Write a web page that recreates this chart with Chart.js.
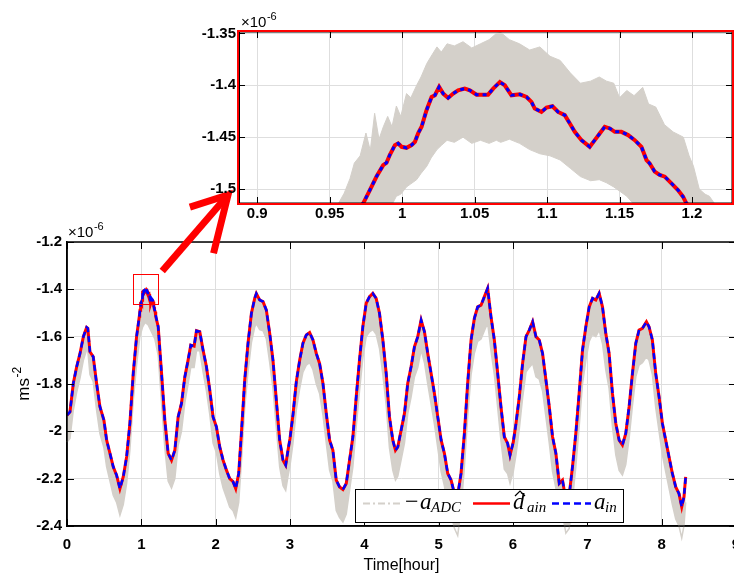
<!DOCTYPE html>
<html><head><meta charset="utf-8">
<script src="https://cdn.jsdelivr.net/npm/chart.js@4.4.0/dist/chart.umd.min.js"></script>
<style>
html,body{margin:0;padding:0;background:#fff;overflow:hidden;width:734px;height:574px;}
#wrap{position:relative;width:734px;height:574px;overflow:hidden;background:#fff;}
canvas{position:absolute;left:0;top:0;}
</style></head><body>
<div id="wrap">
<canvas id="main" width="740" height="574" style="width:740px;height:574px"></canvas>
<canvas id="inset" width="740" height="230" style="width:740px;height:230px"></canvas>
</div>
<script>
// ---------- data (values in units of 1e-6 m/s^2, time in hours) ----------
const hours = [
 0.000,0.040,0.085,0.130,0.175,0.220,0.264,0.280,0.309,0.353,0.398,0.443,0.497,0.533,0.578,0.622,0.667,0.712,0.757,0.802,0.846,0.891,0.936,
 0.9731,0.9777,0.9823,0.9869,0.9892,0.9915,0.9950,0.9972,0.9996,1.0030,1.0065,1.0088,1.0110,1.0134,1.0168,1.0203,1.0226,1.0255,1.0283,1.0317,
 1.0352,1.0386,1.0432,1.0467,1.0513,1.0559,1.0593,1.0628,1.0674,1.0708,1.0754,1.0812,1.0858,1.0892,1.0915,1.0961,1.0996,1.1037,1.1076,1.1122,
 1.1157,1.1191,1.1237,1.1294,1.1329,1.1363,1.1398,1.1433,1.1467,1.1513,1.1559,1.1605,1.1651,1.1686,1.1708,1.1743,1.1777,1.1812,1.1858,1.1903,
 1.1938,1.1961,
 1.227,1.272,1.316,1.361,1.406,1.451,1.495,1.540,1.585,1.629,1.665,1.710,1.742,1.786,1.831,1.876,1.921,1.965,2.010,2.055,2.100,2.145,2.189,
 2.234,2.270,2.310,2.346,2.391,2.435,2.481,2.525,2.547,2.592,2.637,2.682,2.727,2.771,2.816,2.861,2.906,2.942,2.973,3.000,3.040,3.085,3.130,
 3.174,3.219,3.264,3.309,3.354,3.398,3.443,3.488,3.533,3.577,3.622,3.667,3.712,3.757,3.801,3.846,3.891,3.935,3.980,4.025,4.070,4.114,4.159,
 4.204,4.249,4.294,4.338,4.383,4.419,4.450,4.495,4.540,4.584,4.629,4.674,4.719,4.764,4.809,4.853,4.898,4.943,4.988,5.033,5.077,5.122,5.167,
 5.212,5.256,5.301,5.346,5.390,5.436,5.480,5.525,5.570,5.615,5.659,5.704,5.749,5.794,5.838,5.883,5.928,5.960,6.004,6.040,6.085,6.129,6.175,
 6.219,6.264,6.309,6.353,6.398,6.443,6.488,6.532,6.577,6.622,6.666,6.711,6.756,6.800,6.845,6.890,6.935,6.980,7.025,7.070,7.114,7.159,7.204,
 7.248,7.293,7.338,7.383,7.428,7.472,7.517,7.562,7.607,7.652,7.696,7.741,7.795,7.830,7.875,7.920,7.965,8.010,8.054,8.099,8.144,8.189,8.233,
 8.270,8.300,8.323
];
const dHat = [
 -1.932,-1.918,-1.797,-1.727,-1.671,-1.600,-1.561,-1.565,-1.664,-1.685,-1.797,-1.896,-1.953,-2.037,-2.093,-2.150,-2.185,-2.242,-2.192,-2.108,-1.967,-1.755,-1.600,
 -1.5138,-1.5010,-1.4880,-1.4770,-1.4747,-1.4670,-1.4577,-1.4560,-1.4593,-1.4603,-1.4577,-1.4545,-1.4464,-1.4400,-1.4240,-1.4113,-1.4096,-1.4016,-1.4080,-1.4122,
 -1.4080,-1.4048,-1.4032,-1.4048,-1.4090,-1.4090,-1.4090,-1.4032,-1.3968,-1.4000,-1.4096,-1.4087,-1.4113,-1.4160,-1.4224,-1.4257,-1.4215,-1.4202,-1.4257,-1.4288,
 -1.4369,-1.4449,-1.4529,-1.4593,-1.4529,-1.4465,-1.4400,-1.4416,-1.4449,-1.4449,-1.4480,-1.4529,-1.4593,-1.4721,-1.4753,-1.4833,-1.4865,-1.4881,-1.4945,-1.5010,
 -1.5074,-1.5138,
 -1.558,-1.755,-1.953,-2.093,-2.122,-2.080,-1.939,-1.882,-1.770,-1.699,-1.636,-1.640,-1.575,-1.579,-1.657,-1.727,-1.826,-1.939,-1.981,-2.066,-2.122,-2.164,-2.200,
 -2.213,-2.242,-2.178,-2.009,-1.783,-1.628,-1.501,-1.438,-1.418,-1.445,-1.452,-1.488,-1.586,-1.699,-1.868,-2.037,-2.122,-2.143,-2.080,-2.030,-1.930,-1.790,-1.700,
 -1.628,-1.593,-1.583,-1.614,-1.671,-1.713,-1.797,-1.924,-2.037,-2.080,-2.206,-2.235,-2.246,-2.220,-2.122,-2.023,-1.854,-1.699,-1.558,-1.459,-1.431,-1.417,-1.438,
 -1.501,-1.614,-1.755,-1.939,-2.037,-2.080,-2.066,-1.995,-1.924,-1.797,-1.727,-1.643,-1.600,-1.530,-1.579,-1.671,-1.755,-1.840,-1.939,-2.037,-2.093,-2.178,-2.206,
 -2.263,-2.270,-2.178,-2.009,-1.797,-1.614,-1.523,-1.474,-1.467,-1.431,-1.396,-1.516,-1.614,-1.755,-1.896,-2.023,-2.051,-2.101,-2.045,-1.967,-1.854,-1.713,-1.600,
 -1.572,-1.537,-1.600,-1.614,-1.671,-1.783,-1.896,-2.023,-2.093,-2.220,-2.206,-2.290,-2.270,-2.150,-2.009,-1.840,-1.657,-1.558,-1.474,-1.438,-1.445,-1.417,-1.474,
 -1.586,-1.671,-1.840,-1.967,-2.037,-2.058,-2.009,-1.896,-1.755,-1.628,-1.572,-1.565,-1.537,-1.558,-1.614,-1.755,-1.854,-1.967,-2.037,-2.108,-2.178,-2.235,-2.263,
 -2.319,-2.277,-2.192
];
const aIn = dHat; // reference signal coincides with the estimate in the figure

// noisy ADC signal: lower edge of the grey band (main plot)
const adcHours = [
 0.000,0.040,0.085,0.130,0.175,0.220,0.264,0.280,0.309,0.353,0.398,0.443,0.497,0.533,0.578,0.622,0.667,0.712,0.757,0.802,0.846,0.891,0.936,
 0.980,1.016,1.052,1.092,1.137,1.182,1.227,1.272,1.316,1.361,1.406,1.451,1.495,1.540,1.585,1.629,1.665,1.710,1.742,1.786,1.831,1.876,1.921,
 1.965,2.010,2.055,2.100,2.145,2.189,2.234,2.270,2.310,2.346,2.391,2.435,2.481,2.525,2.547,2.592,2.637,2.682,2.727,2.771,2.816,2.861,2.906,
 2.942,2.973,3.000,3.040,3.085,3.130,3.174,3.219,3.264,3.309,3.354,3.398,3.443,3.488,3.533,3.577,3.622,3.667,3.712,3.757,3.801,3.846,3.891,
 3.935,3.980,4.025,4.070,4.114,4.159,4.204,4.249,4.294,4.338,4.383,4.419,4.450,4.495,4.540,4.584,4.629,4.674,4.719,4.764,4.809,4.853,4.898,
 4.943,4.988,5.033,5.077,5.122,5.167,5.212,5.256,5.301,5.346,5.390,5.436,5.480,5.525,5.570,5.615,5.659,5.704,5.749,5.794,5.838,5.883,5.928,
 5.960,6.004,6.040,6.085,6.129,6.175,6.219,6.264,6.309,6.353,6.398,6.443,6.488,6.532,6.577,6.622,6.666,6.711,6.756,6.800,6.845,6.890,6.935,
 6.980,7.025,7.070,7.114,7.159,7.204,7.248,7.293,7.338,7.383,7.428,7.472,7.517,7.562,7.607,7.652,7.696,7.741,7.795,7.830,7.875,7.920,7.965,
 8.010,8.054,8.099,8.144,8.189,8.233,8.270,8.300,8.323
];
const adcLow = [
 -2.045,-2.030,-1.910,-1.835,-1.775,-1.700,-1.655,-1.660,-1.760,-1.790,-1.910,-2.010,-2.070,-2.150,-2.210,-2.270,-2.300,-2.355,-2.310,-2.220,-2.080,-1.870,-1.720,
 -1.600,-1.560,-1.540,-1.550,-1.580,-1.610,-1.680,-1.880,-2.070,-2.210,-2.240,-2.200,-2.060,-2.000,-1.880,-1.800,-1.730,-1.730,-1.660,-1.660,-1.750,-1.830,-1.930,
 -2.050,-2.090,-2.180,-2.240,-2.280,-2.320,-2.335,-2.365,-2.300,-2.130,-1.900,-1.750,-1.625,-1.560,-1.545,-1.570,-1.575,-1.610,-1.710,-1.820,-1.985,-2.150,-2.230,
 -2.250,-2.190,-2.145,-2.050,-1.910,-1.820,-1.750,-1.720,-1.710,-1.740,-1.800,-1.840,-1.930,-2.050,-2.165,-2.210,-2.335,-2.365,-2.383,-2.350,-2.250,-2.150,-1.980,
 -1.830,-1.690,-1.600,-1.580,-1.570,-1.590,-1.650,-1.760,-1.890,-2.070,-2.165,-2.206,-2.190,-2.120,-2.050,-1.925,-1.855,-1.770,-1.730,-1.657,-1.710,-1.800,-1.885,
 -1.970,-2.070,-2.170,-2.230,-2.320,-2.350,-2.410,-2.440,-2.330,-2.150,-1.940,-1.760,-1.670,-1.620,-1.610,-1.575,-1.543,-1.660,-1.760,-1.900,-2.040,-2.160,-2.180,
 -2.220,-2.170,-2.100,-1.990,-1.860,-1.750,-1.730,-1.713,-1.770,-1.780,-1.830,-1.940,-2.050,-2.170,-2.240,-2.360,-2.350,-2.430,-2.410,-2.290,-2.150,-1.980,-1.800,
 -1.700,-1.620,-1.590,-1.600,-1.572,-1.630,-1.740,-1.820,-1.980,-2.100,-2.165,-2.185,-2.140,-2.030,-1.890,-1.770,-1.720,-1.710,-1.685,-1.700,-1.760,-1.900,-2.000,
 -2.100,-2.170,-2.240,-2.310,-2.370,-2.400,-2.450,-2.400,-2.300
];

// noisy ADC signal inside the zoom window: upper / lower edges of the grey band
const adcZoomHours = [
 0.956,0.960,0.964,0.967,0.971,0.975,0.978,0.981,0.984,0.987,0.990,0.993,0.996,0.999,1.003,1.006,1.010,1.013,1.017,1.020,1.024,1.027,1.031,
 1.036,1.042,1.048,1.054,1.060,1.065,1.068,1.074,1.081,1.088,1.095,1.102,1.109,1.116,1.123,1.130,1.136,1.141,1.146,1.150,1.155,1.160,1.166,
 1.170,1.175,1.181,1.187,1.194,1.198,1.201,1.205,1.209,1.212,1.216
];
const adcZoomHi = [
 -1.514,-1.504,-1.490,-1.475,-1.468,-1.446,-1.463,-1.427,-1.452,-1.440,-1.430,-1.440,-1.420,-1.430,-1.408,-1.412,-1.400,-1.392,-1.379,-1.372,-1.363,-1.368,-1.360,
 -1.362,-1.358,-1.364,-1.360,-1.356,-1.350,-1.349,-1.356,-1.360,-1.366,-1.363,-1.372,-1.376,-1.388,-1.398,-1.396,-1.392,-1.396,-1.398,-1.412,-1.405,-1.410,-1.402,
 -1.418,-1.421,-1.438,-1.445,-1.450,-1.468,-1.478,-1.500,-1.505,-1.507,-1.515
];
const adcZoomLo = [
 -1.560,-1.560,-1.560,-1.560,-1.560,-1.560,-1.560,-1.560,-1.560,-1.540,-1.525,-1.515,-1.507,-1.505,-1.498,-1.495,-1.491,-1.485,-1.478,-1.470,-1.462,-1.458,-1.453,
 -1.455,-1.450,-1.456,-1.453,-1.456,-1.453,-1.455,-1.452,-1.456,-1.462,-1.466,-1.468,-1.472,-1.480,-1.488,-1.492,-1.491,-1.494,-1.498,-1.502,-1.507,-1.515,-1.530,
 -1.560,-1.560,-1.560,-1.560,-1.560,-1.560,-1.560,-1.560,-1.560,-1.560,-1.560
];

// axes ranges / ticks
const mainX = {min: 0, max: 9, step: 1};
const mainY = {min: -2.4, max: -1.2, step: 0.2};
const zoomX = {min: 0.8874, max: 1.2276, step: 0.05};
const zoomY = {min: -1.5135, max: -1.3486, step: 0.05};
const zoomBoxY = {top: -1.335, bottom: -1.463};   // red rectangle drawn on main plot
const legendLabels = ['-a_ADC', 'd̂_ain', 'a_in'];

// ---------- styling ----------
const GRAY = 'rgb(212,208,202)';
const RED = 'rgb(255,0,0)';
const BLUE = 'rgb(0,0,255)';
const GRID = 'rgb(222,222,222)';
const SANS = '"Liberation Sans", Arial, Helvetica, sans-serif';
const SERIF = '"Liberation Serif", "Times New Roman", serif';

const pts = (xs, ys) => xs.map((x, i) => ({x, y: ys[i]}));
const fmt = v => String(+(+v).toFixed(3));

function line(ctx, x1, y1, x2, y2) { ctx.beginPath(); ctx.moveTo(x1, y1); ctx.lineTo(x2, y2); ctx.stroke(); }

function drawTimes10(ctx, x, y) {
  ctx.save();
  ctx.fillStyle = '#000';
  ctx.textBaseline = 'alphabetic';
  ctx.textAlign = 'left';
  ctx.font = '15px ' + SANS;
  ctx.fillText('\u00d710', x, y);
  const w = ctx.measureText('\u00d710').width;
  ctx.font = '11px ' + SANS;
  ctx.fillText('-6', x + w + 0.5, y - 7);
  ctx.restore();
}

function boxAndTicks(chart, boxColor, boxWidth, tickLen) {
  const {ctx, chartArea: a, scales: {x, y}} = chart;
  ctx.save();
  ctx.strokeStyle = '#000'; ctx.lineWidth = 1;
  x.ticks.forEach(t => {
    const px = Math.round(x.getPixelForValue(t.value)) + 0.5;
    line(ctx, px, a.bottom, px, a.bottom - tickLen);
    line(ctx, px, a.top, px, a.top + tickLen);
  });
  y.ticks.forEach(t => {
    const py = Math.round(y.getPixelForValue(t.value)) + 0.5;
    line(ctx, a.left, py, a.left + tickLen, py);
    line(ctx, a.right, py, a.right - tickLen, py);
  });
  ctx.strokeStyle = boxColor; ctx.lineWidth = boxWidth;
  ctx.strokeRect(a.left, a.top, a.right - a.left, a.bottom - a.top);
  ctx.restore();
}

// ---------- main chart ----------
const mainDecor = {
  id: 'mainDecor',
  afterDraw(chart) {
    const {ctx, chartArea: a, scales: {x, y}} = chart;
    boxAndTicks(chart, '#000', 1.5, 7);
    drawTimes10(ctx, a.left + 1, a.top - 5);

    // axis titles
    ctx.save();
    ctx.fillStyle = '#000';
    ctx.font = '16px ' + SANS;
    ctx.textAlign = 'center'; ctx.textBaseline = 'alphabetic';
    ctx.fillText('Time[hour]', (a.left + a.right) / 2, 570);
    ctx.translate(29, (a.top + a.bottom) / 2);
    ctx.rotate(-Math.PI / 2);
    ctx.font = '17px ' + SANS;
    const w1 = ctx.measureText('ms').width;
    ctx.font = '12px ' + SANS;
    const w2 = ctx.measureText('-2').width;
    const x0 = -(w1 + w2) / 2;
    ctx.textAlign = 'left';
    ctx.font = '17px ' + SANS;
    ctx.fillText('ms', x0, 0);
    ctx.font = '12px ' + SANS;
    ctx.fillText('-2', x0 + w1 + 0.5, -8);
    ctx.restore();

    // zoom rectangle
    ctx.save();
    const rx1 = x.getPixelForValue(zoomX.min), rx2 = x.getPixelForValue(zoomX.max);
    const ry1 = y.getPixelForValue(zoomBoxY.top), ry2 = y.getPixelForValue(zoomBoxY.bottom);
    ctx.strokeStyle = RED; ctx.lineWidth = 1;
    ctx.strokeRect(Math.round(rx1) + 0.5, Math.round(ry1) + 0.5, Math.round(rx2 - rx1), Math.round(ry2 - ry1));

    // arrow from rectangle towards inset
    const sx = rx2 + 4, sy = ry1 - 3;
    const ex = 228, ey = 195;
    ctx.strokeStyle = RED; ctx.lineWidth = 7; ctx.lineCap = 'butt';
    line(ctx, sx, sy, ex, ey);
    const ang = Math.atan2(ey - sy, ex - sx);
    ctx.beginPath();
    ctx.moveTo(ex - 40 * Math.cos(ang + 0.55), ey - 40 * Math.sin(ang + 0.55));
    ctx.lineTo(ex, ey);
    ctx.lineTo(ex - 60 * Math.cos(ang - 0.47), ey - 60 * Math.sin(ang - 0.47));
    ctx.lineJoin = 'miter';
    ctx.stroke();
    ctx.restore();

    // legend
    ctx.save();
    const bx = 355.5, by = 489.5, bw = 268, bh = 33;
    ctx.fillStyle = '#fff'; ctx.fillRect(bx, by, bw, bh);
    ctx.strokeStyle = '#000'; ctx.lineWidth = 1; ctx.strokeRect(bx, by, bw, bh);
    const ly = 503.5;
    ctx.lineWidth = 2; ctx.strokeStyle = GRAY; ctx.setLineDash([7, 3, 2, 3]);
    line(ctx, 363, ly, 402, ly);
    ctx.setLineDash([]); ctx.strokeStyle = RED; ctx.lineWidth = 2.5;
    line(ctx, 473, ly, 510, ly);
    ctx.strokeStyle = BLUE; ctx.setLineDash([7, 4]);
    line(ctx, 552, ly, 591, ly);
    ctx.setLineDash([]);
    ctx.fillStyle = '#000'; ctx.textAlign = 'left'; ctx.textBaseline = 'alphabetic';
    const base = 509;
    // −a_ADC
    ctx.font = '24px ' + SERIF;
    ctx.fillText('\u2212', 405, base);
    ctx.font = 'italic 23px ' + SERIF;
    ctx.fillText('a', 420, base);
    ctx.font = 'italic 15px ' + SERIF;
    ctx.fillText(legendLabels[0].split('_')[1], 431, base + 3);
    // d̂_ain
    ctx.font = 'italic 23px ' + SERIF;
    ctx.fillText('d', 513, base);
    ctx.lineWidth = 1.2; ctx.strokeStyle = '#000';
    ctx.beginPath(); ctx.moveTo(515, 496); ctx.lineTo(520, 491); ctx.lineTo(525, 496); ctx.stroke();
    ctx.font = 'italic 15px ' + SERIF;
    ctx.fillText(legendLabels[1].split('_')[1], 527, base + 3);
    // a_in
    ctx.font = 'italic 23px ' + SERIF;
    ctx.fillText('a', 594, base);
    ctx.font = 'italic 15px ' + SERIF;
    ctx.fillText(legendLabels[2].split('_')[1], 605, base + 3);
    ctx.restore();
  }
};

const tickFont = {family: SANS, size: 15, weight: 'bold'};

new Chart(document.getElementById('main'), {
  type: 'line',
  data: {
    datasets: [
      {label: legendLabels[0], data: pts(adcHours, adcLow), borderColor: GRAY, backgroundColor: GRAY,
       borderWidth: 1.5, pointRadius: 0, fill: 1, order: 3, tension: 0, clip: false},
      {label: legendLabels[1], data: pts(hours, dHat), borderColor: RED, borderWidth: 3,
       pointRadius: 0, fill: false, order: 2, tension: 0},
      {label: legendLabels[2], data: pts(hours, aIn), borderColor: BLUE, borderWidth: 2.5, borderDash: [6, 4],
       pointRadius: 0, fill: false, order: 1, tension: 0}
    ]
  },
  options: {
    responsive: false, animation: false, devicePixelRatio: 1,
    events: [],
    layout: {padding: {top: 242, right: 4, left: 0, bottom: 0}},
    plugins: {legend: {display: false}, tooltip: {enabled: false}, title: {display: false}},
    scales: {
      x: {type: 'linear', min: mainX.min, max: mainX.max,
          ticks: {stepSize: mainX.step, font: tickFont, color: '#000', padding: 10, maxRotation: 0, autoSkip: false, callback: fmt},
          grid: {color: GRID, lineWidth: 1, drawTicks: false},
          border: {color: '#000', width: 1.5},
          afterFit(s) { s.height = 48; s.paddingLeft = 0; s.paddingRight = 0; }},
      y: {type: 'linear', min: mainY.min, max: mainY.max,
          ticks: {stepSize: mainY.step, font: tickFont, color: '#000', padding: 5, callback: fmt},
          grid: {color: GRID, lineWidth: 1, drawTicks: false},
          border: {color: '#000', width: 1.5},
          afterFit(s) { s.width = 67; s.paddingTop = 0; s.paddingBottom = 0; }}
    }
  },
  plugins: [mainDecor]
});

// ---------- inset (zoom) chart ----------
const insetDecor = {
  id: 'insetDecor',
  beforeDraw(chart) {
    const {ctx, chartArea: a} = chart;
    ctx.save(); ctx.fillStyle = '#fff';
    ctx.fillRect(a.left, a.top, a.right - a.left, a.bottom - a.top);
    ctx.restore();
  },
  afterDraw(chart) {
    const {ctx, chartArea: a} = chart;
    boxAndTicks(chart, '#000', 1, 6);
    ctx.save();
    ctx.strokeStyle = RED; ctx.lineWidth = 2;
    ctx.strokeRect(a.left - 1, a.top - 1, a.right - a.left + 2, a.bottom - a.top + 2);
    ctx.restore();
    drawTimes10(ctx, a.left + 2, a.top - 5);
  }
};

new Chart(document.getElementById('inset'), {
  type: 'line',
  data: {
    datasets: [
      {label: 'hi', data: pts(adcZoomHours, adcZoomHi), borderColor: GRAY, backgroundColor: GRAY,
       borderWidth: 1, pointRadius: 0, fill: 1, order: 4, tension: 0},
      {label: 'lo', data: pts(adcZoomHours, adcZoomLo), borderColor: GRAY, backgroundColor: GRAY,
       borderWidth: 1, pointRadius: 0, fill: false, order: 4, tension: 0},
      {label: legendLabels[1], data: pts(hours, dHat), borderColor: RED, borderWidth: 4,
       pointRadius: 0, fill: false, order: 2, tension: 0},
      {label: legendLabels[2], data: pts(hours, aIn), borderColor: BLUE, borderWidth: 3, borderDash: [4, 4],
       pointRadius: 0, fill: false, order: 1, tension: 0}
    ]
  },
  options: {
    responsive: false, animation: false, devicePixelRatio: 1,
    events: [],
    layout: {padding: {top: 32, right: 8, left: 0, bottom: 0}},
    plugins: {legend: {display: false}, tooltip: {enabled: false}, title: {display: false}},
    scales: {
      x: {type: 'linear', min: zoomX.min, max: zoomX.max,
          ticks: {stepSize: zoomX.step, includeBounds: false, font: tickFont, color: '#000', padding: 2, maxRotation: 0, autoSkip: false, callback: fmt},
          grid: {color: GRID, lineWidth: 1, drawTicks: false},
          border: {color: '#000', width: 1},
          afterFit(s) { s.height = 27; s.paddingLeft = 0; s.paddingRight = 0; }},
      y: {type: 'linear', min: zoomY.min, max: zoomY.max,
          ticks: {stepSize: zoomY.step, includeBounds: false, font: tickFont, color: '#000', padding: 3, callback: fmt},
          grid: {color: GRID, lineWidth: 1, drawTicks: false},
          border: {color: '#000', width: 1},
          afterFit(s) { s.width = 239; s.paddingTop = 0; s.paddingBottom = 0; }}
    }
  },
  plugins: [insetDecor]
});
</script>
</body></html>
